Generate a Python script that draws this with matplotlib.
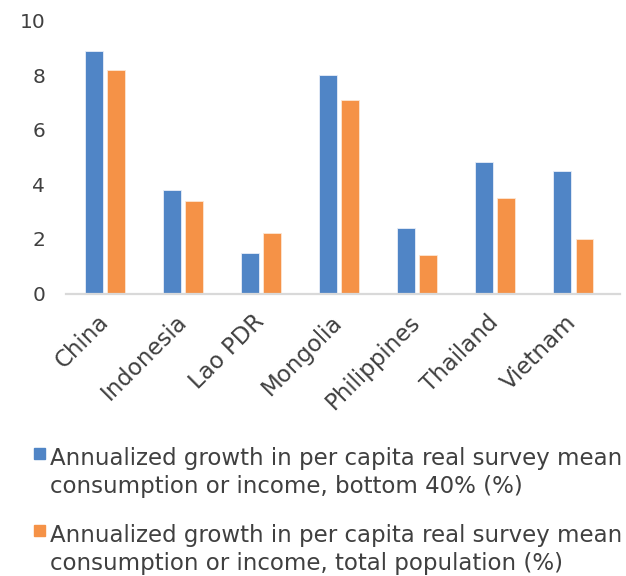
import matplotlib
matplotlib.use("Agg")
import matplotlib.pyplot as plt
from matplotlib.patches import Rectangle
import numpy as np

countries = ["China", "Indonesia", "Lao PDR", "Mongolia", "Philippines", "Thailand", "Vietnam"]
bottom40 = [8.9, 3.8, 1.5, 8.0, 2.4, 4.8, 4.5]
total_pop = [8.2, 3.4, 2.2, 7.1, 1.4, 3.5, 2.0]
series_labels = [
    "Annualized growth in per capita real survey mean\nconsumption or income, bottom 40% (%)",
    "Annualized growth in per capita real survey mean\nconsumption or income, total population (%)",
]
y_ticks = [0, 2, 4, 6, 8, 10]

BLUE = "#5085C6"
ORANGE = "#F59247"
TEXT = "#404040"

plt.rcParams["font.family"] = ["DejaVu Sans"]

W, H = 626, 576
fig = plt.figure(figsize=(W / 100, H / 100), dpi=100)
ax = fig.add_axes([66 / W, 1 - 293.5 / H, (620 - 66) / W, (293.5 - 20.5) / H])

x = np.arange(len(countries))
bw = 0.23
off = 0.145
ax.bar(x - off, bottom40, bw, color=BLUE, edgecolor="#E8EEF8", linewidth=0.6, zorder=2)
ax.bar(x + off, total_pop, bw, color=ORANGE, edgecolor="#FDE6D4", linewidth=0.6, zorder=2)

ax.set_xlim(-0.5, 6.6)
ax.set_ylim(0, 10)
ax.set_yticks(y_ticks)
ax.set_yticklabels([str(v) for v in y_ticks], fontsize=14.5, color=TEXT)
ax.tick_params(axis="y", length=0, pad=15)

ax.set_xticks(x)
ax.set_xticklabels(countries, rotation=45, ha="right", va="center",
                   rotation_mode="anchor", fontsize=16.5, color=TEXT)
ax.tick_params(axis="x", length=0, pad=18)

for s in ["top", "right", "left"]:
    ax.spines[s].set_visible(False)
ax.spines["bottom"].set_color("#D9D9D9")
ax.spines["bottom"].set_linewidth(1.6)

# legend drawn below the plot, square keys aligned with the first text line
for i, (lab, col) in enumerate(zip(series_labels, [BLUE, ORANGE])):
    top = 448 + i * 77
    fig.add_artist(Rectangle((34 / W, 1 - (top + 11) / H), 11 / W, 11 / H,
                             transform=fig.transFigure, color=col))
    fig.text(50 / W, 1 - (top - 1) / H, lab, fontsize=16.5, color=TEXT,
             va="top", ha="left", linespacing=1.3)

fig.savefig("out.png", dpi=100)
